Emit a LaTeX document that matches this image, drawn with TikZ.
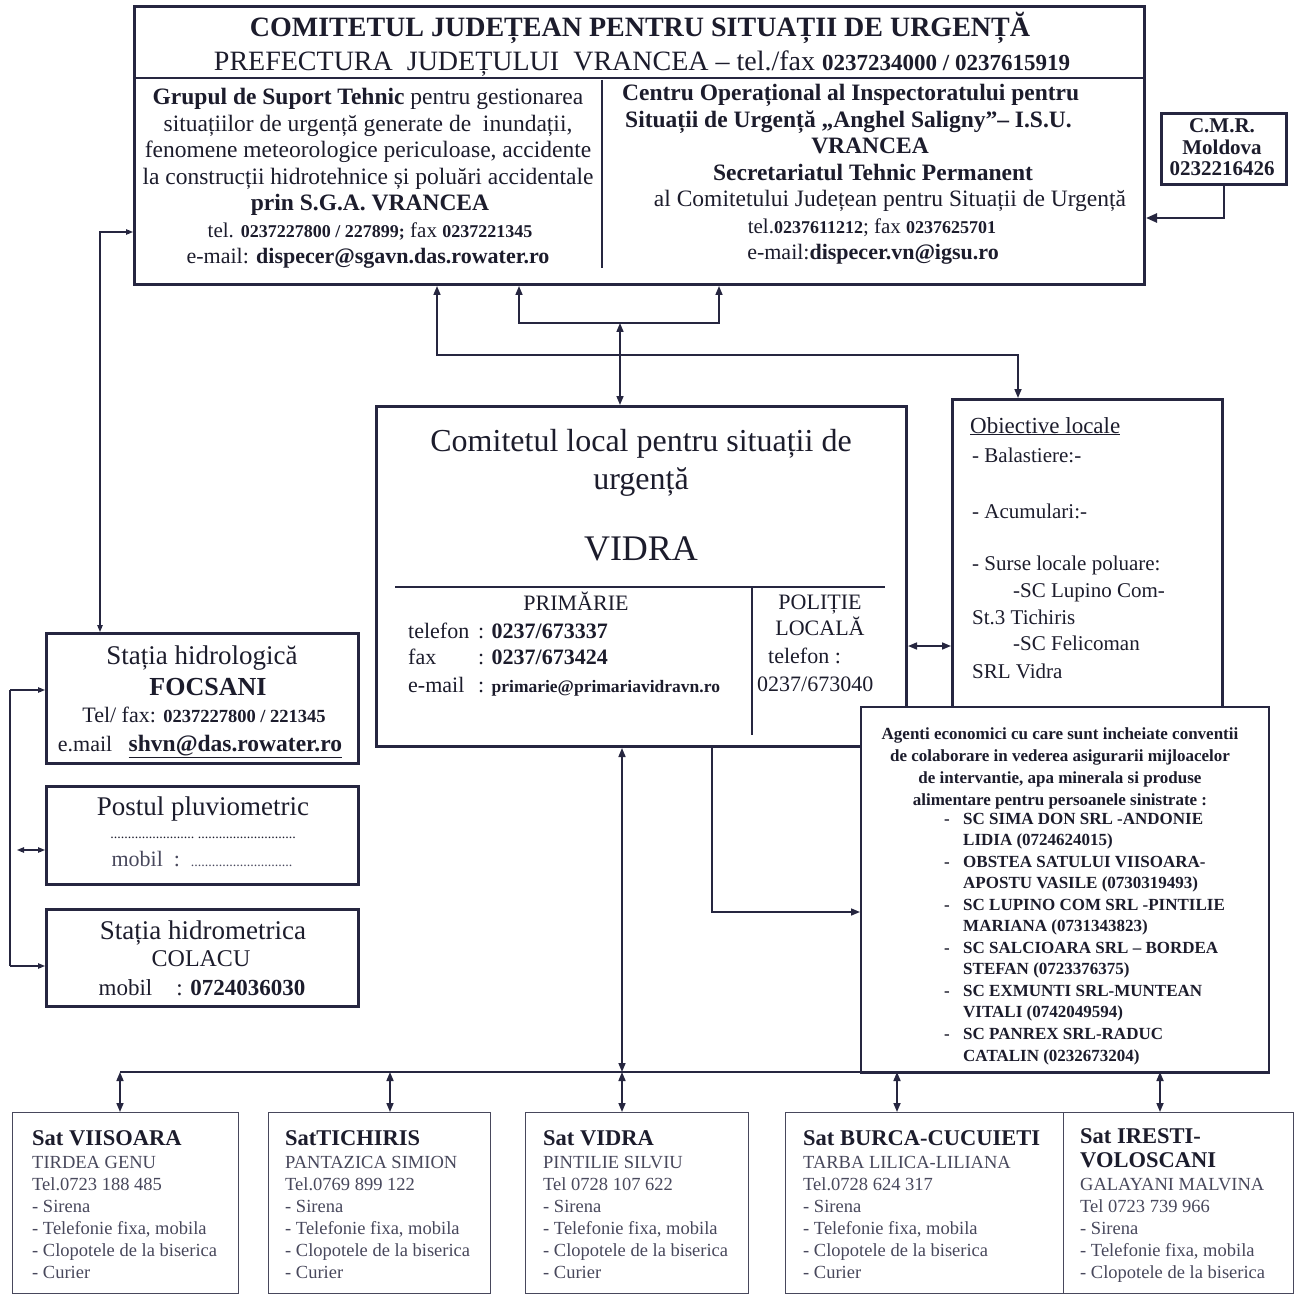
\documentclass[tikz,border=0pt]{standalone}
\usepackage{fontspec}
\setmainfont{Liberation Serif}
\usetikzlibrary{arrows.meta}
\newcommand\fsz[1]{\fontsize{#1}{#1}\selectfont}
\definecolor{ink}{RGB}{38,38,64}
\definecolor{txtc}{RGB}{28,28,44}
\definecolor{soft}{RGB}{72,72,92}
\begin{document}
\begin{tikzpicture}[x=1pt,y=-1pt,
  >={Triangle[length=9pt,width=7pt]},
  box/.style={draw=ink, line width=2.6pt, fill=white, anchor=north west, inner sep=0pt},
  vbox/.style={draw=soft, line width=1.4pt, fill=white, anchor=north west, inner sep=0pt},
  tc/.style={inner sep=0pt, anchor=base, text=txtc},
  tl/.style={inner sep=0pt, anchor=base west, text=txtc},
  vt/.style={inner sep=0pt, anchor=base west, text=soft},
  conn/.style={draw=ink, line width=1.6pt},
  sep/.style={draw=ink, line width=1.3pt},
  lconn/.style={draw=ink, line width=1.1pt, >={Triangle[length=7pt,width=5.5pt]}},
]
\fill[white] (0,0) rectangle (1299,1297);
\useasboundingbox (0,0) rectangle (1299,1297);

% ---------------- boxes ----------------
\node[box, line width=3pt, minimum width=1010pt, minimum height=278pt] (top) at (133,5) {};
\node[box, line width=2.6pt, minimum width=125pt, minimum height=71pt] (cmr) at (1160,112) {};
\node[box, line width=3pt, minimum width=530pt, minimum height=340pt] (vidra) at (375,405) {};
\node[box, minimum width=270pt, minimum height=308pt] (obj) at (951,398) {};
\node[box, line width=2.2pt, minimum width=408pt, minimum height=366pt] (ag) at (860,706) {};
\node[box, minimum width=312pt, minimum height=130pt] (sh) at (45,632) {};
\node[box, minimum width=312pt, minimum height=98pt] (pp) at (45,785) {};
\node[box, minimum width=312pt, minimum height=97pt] (sm) at (45,908) {};
\node[vbox, minimum width=226pt, minimum height=181pt] (v1) at (12,1112) {};
\node[vbox, minimum width=222pt, minimum height=181pt] (v2) at (268,1112) {};
\node[vbox, minimum width=223pt, minimum height=181pt] (v3) at (525,1112) {};
\node[vbox, minimum width=278pt, minimum height=181pt] (v4) at (785,1112) {};
\node[vbox, minimum width=230pt, minimum height=181pt] (v5) at (1063,1112) {};

% inner separators
\draw[sep] (133,78) -- (1143,78);
\draw[sep] (602,80) -- (602,268);
\draw[sep] (395,587) -- (885,587);
\draw[sep] (752,587) -- (752,735);

% ---------------- top box text ----------------
\node[tc] (t1) at (640,37) {\fsz{28}\bfseries COMITETUL JUDEȚEAN PENTRU SITUAȚII DE URGENȚĂ};
\node[tc] (t2) at (642,71) {\fsz{28}PREFECTURA\ \ JUDEȚULUI\ \ VRANCEA – tel./fax {\fsz{23}\bfseries 0237234000 / 0237615919}};

\node[tc] (l1) at (368,105) {\fsz{23.5}\textbf{Grupul de Suport Tehnic} pentru gestionarea};
\node[tc] (l2) at (368,131.5) {\fsz{23.5}situațiilor de urgență generate de\ \ inundații,};
\node[tc] (l3) at (368,158) {\fsz{23.5}fenomene meteorologice periculoase, accidente};
\node[tc] (l4) at (368,184.5) {\fsz{23.5}la construcții hidrotehnice și poluări accidentale};
\node[tc] (l5) at (370,211) {\fsz{23.5}\bfseries prin S.G.A. VRANCEA};
\node[tc] (l6) at (370,237.5) {\fsz{21}tel. {\fsz{18}\bfseries 0237227800 / 227899;} fax {\fsz{18}\bfseries 0237221345}};
\node[tc] (l7) at (368,264) {\fsz{22}e-mail: \textbf{dispecer@sgavn.das.rowater.ro}};

\node[tl] (r1) at (622,101) {\fsz{23.5}\bfseries Centru Operațional al Inspectoratului pentru};
\node[tl] (r2) at (625,127.5) {\fsz{23.5}\bfseries Situații de Urgență „Anghel Saligny”– I.S.U.};
\node[tc] (r3) at (870,154) {\fsz{23.5}\bfseries VRANCEA};
\node[tc] (r4) at (873,180.5) {\fsz{23.5}\bfseries Secretariatul Tehnic Permanent};
\node[tc] (r5) at (890,207) {\fsz{23.5}al Comitetului Județean pentru Situații de Urgență};
\node[tc] (r6) at (872,233.5) {\fsz{21}tel.{\fsz{18}\bfseries 0237611212}; fax {\fsz{18}\bfseries 0237625701}};
\node[tc] (r7) at (873,260) {\fsz{22}e-mail:\textbf{dispecer.vn@igsu.ro}};

% C.M.R.
\node[tc] (c1) at (1222,133) {\fsz{21}\bfseries C.M.R.};
\node[tc] (c2) at (1222,154.5) {\fsz{21}\bfseries Moldova};
\node[tc] (c3) at (1222,176) {\fsz{21}\bfseries 0232216426};

% ---------------- Vidra ----------------
\node[tc] (w1) at (641,451) {\fsz{32}Comitetul local pentru situații de};
\node[tc] (w2) at (641,489) {\fsz{32}urgență};
\node[tc] (w3) at (641,560) {\fsz{36}VIDRA};
\node[tc] (w4) at (576,610) {\fsz{22}PRIMĂRIE};
\node[tl] (w5) at (408,638) {\fsz{22}\makebox[70pt][l]{telefon}: \textbf{0237/673337}};
\node[tl] (w6) at (408,664) {\fsz{22}\makebox[70pt][l]{fax}: \textbf{0237/673424}};
\node[tl] (w7) at (408,692) {\fsz{22}\makebox[70pt][l]{e-mail}: {\fsz{17.5}\bfseries primarie@primariavidravn.ro}};
\node[tc] (w8) at (820,609) {\fsz{22}POLIȚIE};
\node[tc] (w9) at (820,635) {\fsz{22}LOCALĂ};
\node[tl] (w10) at (768,663) {\fsz{22}telefon :};
\node[tl] (w11) at (757,691) {\fsz{22}0237/673040};

% ---------------- Obiective ----------------
\node[tl] (o1) at (970,433) {\fsz{23}\underline{Obiective locale}};
\node[tl] (o2) at (972,462) {\fsz{21}- Balastiere:-};
\node[tl] (o3) at (972,518) {\fsz{21}- Acumulari:-};
\node[tl] (o4) at (972,570) {\fsz{21}- Surse locale poluare:};
\node[tl] (o5) at (1013,597) {\fsz{21}-SC Lupino Com-};
\node[tl] (o6) at (972,624) {\fsz{21}St.3 Tichiris};
\node[tl] (o7) at (1013,650) {\fsz{21}-SC Felicoman};
\node[tl] (o8) at (972,678) {\fsz{21}SRL Vidra};

% ---------------- Agenti ----------------
\node[tc] (a1) at (1060,739) {\fsz{17}\bfseries Agenti economici cu care sunt incheiate conventii};
\node[tc] (a2) at (1060,761) {\fsz{17}\bfseries de colaborare in vederea asigurarii mijloacelor};
\node[tc] (a3) at (1060,783) {\fsz{17}\bfseries de intervantie, apa minerala si produse};
\node[tc] (a4) at (1060,805) {\fsz{17}\bfseries alimentare pentru persoanele sinistrate :};
\foreach \yy/\tt [count=\i] in {
  824/{SC SIMA DON SRL -ANDONIE}, 845.5/{LIDIA (0724624015)},
  867/{OBSTEA SATULUI VIISOARA-}, 888.5/{APOSTU VASILE (0730319493)},
  910/{SC LUPINO COM SRL -PINTILIE}, 931.5/{MARIANA (0731343823)},
  953/{SC SALCIOARA SRL – BORDEA}, 974.5/{STEFAN (0723376375)},
  996/{SC EXMUNTI SRL-MUNTEAN}, 1017.5/{VITALI (0742049594)},
  1039/{SC PANREX SRL-RADUC}, 1061/{CATALIN (0232673204)}}
  \node[tl] (al\i) at (963,\yy) {\fsz{17}\bfseries \tt};
\foreach \yy [count=\i] in {824,867,910,953,996,1039}
  \node[tl] (ad\i) at (944,\yy) {\fsz{17}\bfseries -};

% ---------------- left stations ----------------
\node[tc] (s1) at (202,664) {\fsz{27}Stația hidrologică};
\node[tc] (s2) at (208,695) {\fsz{26}\bfseries FOCSANI};
\node[tc] (s3) at (204,722) {\fsz{22}Tel/ fax: {\fsz{18.5}\bfseries 0237227800 / 221345}};
\node[tc] (s4) at (200,751) {\fsz{22}e.mail\ \ \ \underline{\fsz{23.5}\bfseries shvn@das.rowater.ro}};
\node[tc] (p1) at (203,815) {\fsz{27}Postul pluviometric};
\node[tc] (p2) at (203,838) {\fsz{14}........................\ ............................};
\node[tc,text=soft] (p3) at (202,866) {\fsz{22}mobil\ \ :\ \ {\fsz{14}.............................}};
\node[tc] (m1) at (203,939) {\fsz{27}Stația hidrometrica};
\node[tc] (m2) at (201,966) {\fsz{24}COLACU};
\node[tc] (m3) at (202,995) {\fsz{23}mobil\hspace{24pt}: \textbf{0724036030}};

% ---------------- villages ----------------
\node[tl] (v1t) at (32,1145) {\fsz{22.5}\bfseries Sat VIISOARA};
\foreach \yy/\tt [count=\i] in {1168/{TIRDEA GENU},1190/{Tel.0723 188 485},1212/{- Sirena},1234/{- Telefonie fixa, mobila},1256/{- Clopotele de la biserica},1278/{- Curier}}
  \node[vt] (v1l\i) at (32,\yy) {\fsz{18.5}\tt};
\node[tl] (v2t) at (285,1145) {\fsz{22.5}\bfseries SatTICHIRIS};
\foreach \yy/\tt [count=\i] in {1168/{PANTAZICA SIMION},1190/{Tel.0769 899 122},1212/{- Sirena},1234/{- Telefonie fixa, mobila},1256/{- Clopotele de la biserica},1278/{- Curier}}
  \node[vt] (v2l\i) at (285,\yy) {\fsz{18.5}\tt};
\node[tl] (v3t) at (543,1145) {\fsz{22.5}\bfseries Sat VIDRA};
\foreach \yy/\tt [count=\i] in {1168/{PINTILIE SILVIU},1190/{Tel 0728 107 622},1212/{- Sirena},1234/{- Telefonie fixa, mobila},1256/{- Clopotele de la biserica},1278/{- Curier}}
  \node[vt] (v3l\i) at (543,\yy) {\fsz{18.5}\tt};
\node[tl] (v4t) at (803,1145) {\fsz{22.5}\bfseries Sat BURCA-CUCUIETI};
\foreach \yy/\tt [count=\i] in {1168/{TARBA LILICA-LILIANA},1190/{Tel.0728 624 317},1212/{- Sirena},1234/{- Telefonie fixa, mobila},1256/{- Clopotele de la biserica},1278/{- Curier}}
  \node[vt] (v4l\i) at (803,\yy) {\fsz{18.5}\tt};
\node[tl] (v5t) at (1080,1143) {\fsz{22.5}\bfseries Sat IRESTI-};
\node[tl] (v5u) at (1080,1167) {\fsz{22.5}\bfseries VOLOSCANI};
\foreach \yy/\tt [count=\i] in {1190/{GALAYANI MALVINA},1212/{Tel 0723 739 966},1234/{- Sirena},1256/{- Telefonie fixa, mobila},1278/{- Clopotele de la biserica}}
  \node[vt] (v5l\i) at (1080,\yy) {\fsz{18.5}\tt};

% ---------------- connectors ----------------
\coordinate (j1) at (437,355);
\coordinate (j2) at (1018,355);
\coordinate (j3) at (519,323);
\coordinate (j4) at (719,323);
\coordinate (j5) at (620,323);
\coordinate (j6) at (1225,218);
\coordinate (j7) at (100,232);
\coordinate (j8) at (10,690);
\coordinate (j9) at (10,966);
\coordinate (j10) at (17,850);
\coordinate (j11) at (0,646);
\coordinate (j12) at (712,912);
\coordinate (j13) at (622,1072);
\draw[conn,<->] (top.south -| j1) -- (j1) -- (j2) -- (obj.north -| j2);
\draw[conn,<->] (top.south -| j3) -- (j3) -- (j4) -- (top.south -| j4);
\draw[conn,<->] (j5) -- (vidra.north -| j5);
\draw[ink, line width=2.4pt, ->, >={Triangle[length=11pt,width=9pt]}] (cmr.south) |- (top.east |- j6);
\draw[lconn,<->] (top.west |- j7) -- (j7) -- (sh.north -| j7);
\draw[lconn] (j8) -- (j9);
\draw[lconn,->] (j8) -- (sh.west |- j8);
\draw[lconn,->] (j9) -- (sm.west |- j9);
\draw[lconn,<->] (j10) -- (pp.west |- j10);
\draw[conn,<->] (vidra.east |- j11) -- (obj.west |- j11);
\draw[conn,->] (vidra.south -| j12) -- (j12) -- (ag.west |- j12);
\draw[conn,<->] (vidra.south -| j13) -- (j13);
\coordinate (d1) at (120,1072);
\coordinate (d2) at (390,1072);
\coordinate (d3) at (622,1072);
\coordinate (d4) at (897,1072);
\coordinate (d5) at (1160,1072);
\draw[conn] (d1) -- (ag.south east |- d1);
\foreach \k in {1,...,5}
  \draw[conn,<->] (d\k) -- (v\k.north -| d\k);
\end{tikzpicture}
\end{document}
